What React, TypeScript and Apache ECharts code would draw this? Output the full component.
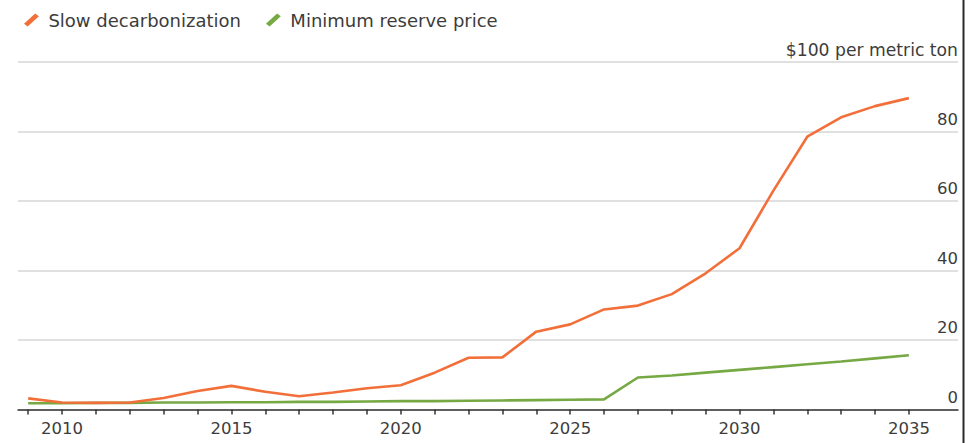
import React, { useEffect, useRef } from "react";
import * as echarts from "echarts";

const years = [2009, 2010, 2011, 2012, 2013, 2014, 2015, 2016, 2017, 2018, 2019, 2020, 2021, 2022, 2023, 2024, 2025, 2026, 2027, 2028, 2029, 2030, 2031, 2032, 2033, 2034, 2035];
const slowDecarbonization = [3.2, 2.0, 1.9, 2.0, 3.3, 5.3, 6.8, 5.1, 3.8, 4.9, 6.1, 7.0, 10.6, 14.9, 15.0, 22.4, 24.5, 28.8, 29.9, 33.2, 39.2, 46.4, 63.0, 78.5, 84.1, 87.3, 89.6];
const minimumReservePrice = [1.8, 1.8, 1.9, 1.9, 2.0, 2.0, 2.1, 2.1, 2.2, 2.2, 2.3, 2.4, 2.4, 2.5, 2.6, 2.7, 2.8, 2.9, 9.2, 9.8, 10.6, 11.4, 12.2, 13.0, 13.8, 14.7, 15.6];
const xTickYears = [2009, 2010, 2011, 2012, 2013, 2014, 2015, 2016, 2017, 2018, 2019, 2020, 2021, 2022, 2023, 2024, 2025, 2026, 2027, 2028, 2029, 2030, 2031, 2032, 2033, 2034, 2035];
const xLabelYears = [2010, 2015, 2020, 2025, 2030, 2035];
const unitLabel = "$100 per metric ton";

const ORANGE = "#f26f3a";
const GREEN = "#76a944";
const FONT = "DejaVu Sans";
const TEXT = "#3c3c3c";
const SLASH = "path://M0,11 L12,0 L16,3 L4,14 Z";

export default function App() {
  const ref = useRef<HTMLDivElement>(null);
  useEffect(() => {
    if (!ref.current) return;
    const chart = echarts.init(ref.current, null, { renderer: "svg" });
    const pair = (vals: number[]) => years.map((y, i) => [y, vals[i]]);
    chart.setOption({
      animation: false,
      backgroundColor: "#ffffff",
      legend: {
        left: 19,
        top: 6,
        itemWidth: 16,
        itemHeight: 13,
        itemGap: 25,
        textStyle: { fontFamily: FONT, fontSize: 18, color: TEXT, padding: [0, 0, 0, 4] },
        data: [
          { name: "Slow decarbonization", icon: SLASH, itemStyle: { color: ORANGE } },
          { name: "Minimum reserve price", icon: SLASH, itemStyle: { color: GREEN } },
        ],
      },
      grid: { left: 18, right: 10, top: 62, bottom: 33.5, containLabel: false },
      xAxis: {
        type: "value",
        min: 2008.7,
        max: 2036.45,
        axisLine: { show: true, lineStyle: { color: "#333333", width: 1.5 } },
        axisTick: { show: true, customValues: xTickYears, length: 5, lineStyle: { color: "#333333", width: 1.5 } },
        axisLabel: {
          customValues: xLabelYears,
          formatter: (v: number) => String(Math.round(v)),
          fontFamily: FONT,
          fontSize: 16.5,
          color: TEXT,
          margin: 10,
        },
        splitLine: { show: false },
      },
      yAxis: {
        type: "value",
        position: "right",
        min: 0,
        max: 100,
        interval: 20,
        axisLine: { show: false },
        axisTick: { show: false },
        axisLabel: {
          inside: true,
          margin: 0,
          verticalAlign: "bottom",
          padding: [0, 0, 4, 0],
          formatter: (v: number) => (v === 100 ? "{u|" + unitLabel + "}" : String(v)),
          rich: { u: { fontFamily: FONT, fontSize: 17.2, color: TEXT } },
          fontFamily: FONT,
          fontSize: 16.5,
          color: TEXT,
        },
        splitLine: { show: true, lineStyle: { color: "#d6d6d6", width: 1.5 } },
      },
      graphic: [
        { type: "line", shape: { x1: 963.5, y1: 0, x2: 963.5, y2: 443 }, style: { stroke: "#2a2a2a", lineWidth: 2 } },
      ],
      series: [
        {
          name: "Minimum reserve price",
          type: "line",
          data: pair(minimumReservePrice),
          showSymbol: false,
          symbol: "none",
          lineStyle: { color: GREEN, width: 2.6 },
          itemStyle: { color: GREEN },
          z: 2,
        },
        {
          name: "Slow decarbonization",
          type: "line",
          data: pair(slowDecarbonization),
          showSymbol: false,
          symbol: "none",
          lineStyle: { color: ORANGE, width: 2.6 },
          itemStyle: { color: ORANGE },
          z: 3,
        },
      ],
    });
    return () => chart.dispose();
  }, []);
  return <div ref={ref} style={{ position: "fixed", left: 0, top: 0, width: 968, height: 443 }} />;
}
